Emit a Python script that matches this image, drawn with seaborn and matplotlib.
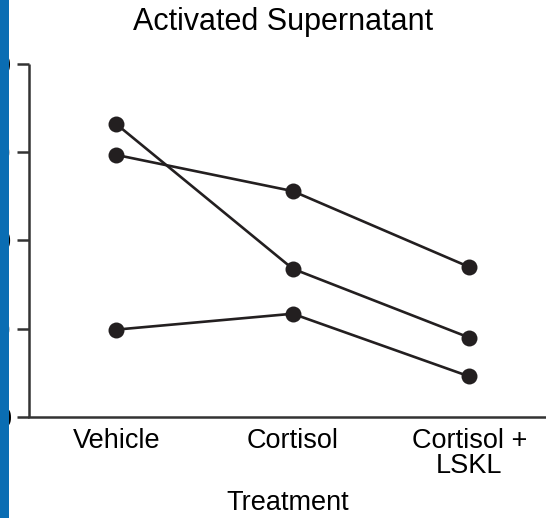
import matplotlib
matplotlib.use("Agg")
import matplotlib.pyplot as plt
import seaborn as sns
import pandas as pd
from matplotlib.patches import Rectangle

sns.set_theme(style="ticks")
plt.rcParams['font.family'] = ['Liberation Sans', 'DejaVu Sans']

categories = ["Vehicle", "Cortisol", "Cortisol +\nLSKL"]
subject_a = [33.2, 16.8, 9.0]
subject_b = [29.7, 25.6, 17.0]
subject_c = [9.9, 11.7, 4.6]
yticks = [0, 10, 20, 30, 40]
ytick_labels = ["0", "10", "20", "30", "40"]

rows = []
for name, vals in [("A", subject_a), ("B", subject_b), ("C", subject_c)]:
    for c, v in zip(categories, vals):
        rows.append({"Treatment": c, "value": v, "subject": name})
df = pd.DataFrame(rows)

fig = plt.figure(figsize=(5.46, 5.18), dpi=100)
ax = fig.add_axes([29/546, 101/518, 1 - 29/546, (417-64)/518])

ink = "#231f20"
sns.lineplot(data=df, x="Treatment", y="value", units="subject", estimator=None,
             color=ink, marker="o", markersize=11.5, markeredgewidth=0,
             linewidth=1.9, ax=ax, sort=False)

ax.set_xlim(-0.494, 2.435)
ax.set_ylim(0, 40)
ax.set_yticks(yticks)
ax.set_yticklabels(ytick_labels)
ax.tick_params(axis="y", length=8.6, width=1.8, color="#333333", labelsize=19.5, pad=4, labelcolor="black")
ax.tick_params(axis="x", length=0, labelsize=19.5, pad=8, labelcolor="black")
for lab in ax.get_xticklabels():
    lab.set_linespacing(0.95)
for s in ["left", "bottom"]:
    ax.spines[s].set_linewidth(1.8)
    ax.spines[s].set_color("#333333")
sns.despine(ax=ax)
ax.spines["left"].set_capstyle("butt")

ax.set_xlabel("Treatment", fontsize=19.5, labelpad=8, color="black")
ax.set_ylabel("")
fig.text(283/546, 1 - 22/518, "Activated Supernatant", fontsize=22, ha="center", va="center", color="black")

fig.patches.append(Rectangle((0, 0), 8.5/546, 1, transform=fig.transFigure,
                             facecolor="#0a6db3", edgecolor="none", zorder=10))

fig.savefig("out.png", dpi=100)
